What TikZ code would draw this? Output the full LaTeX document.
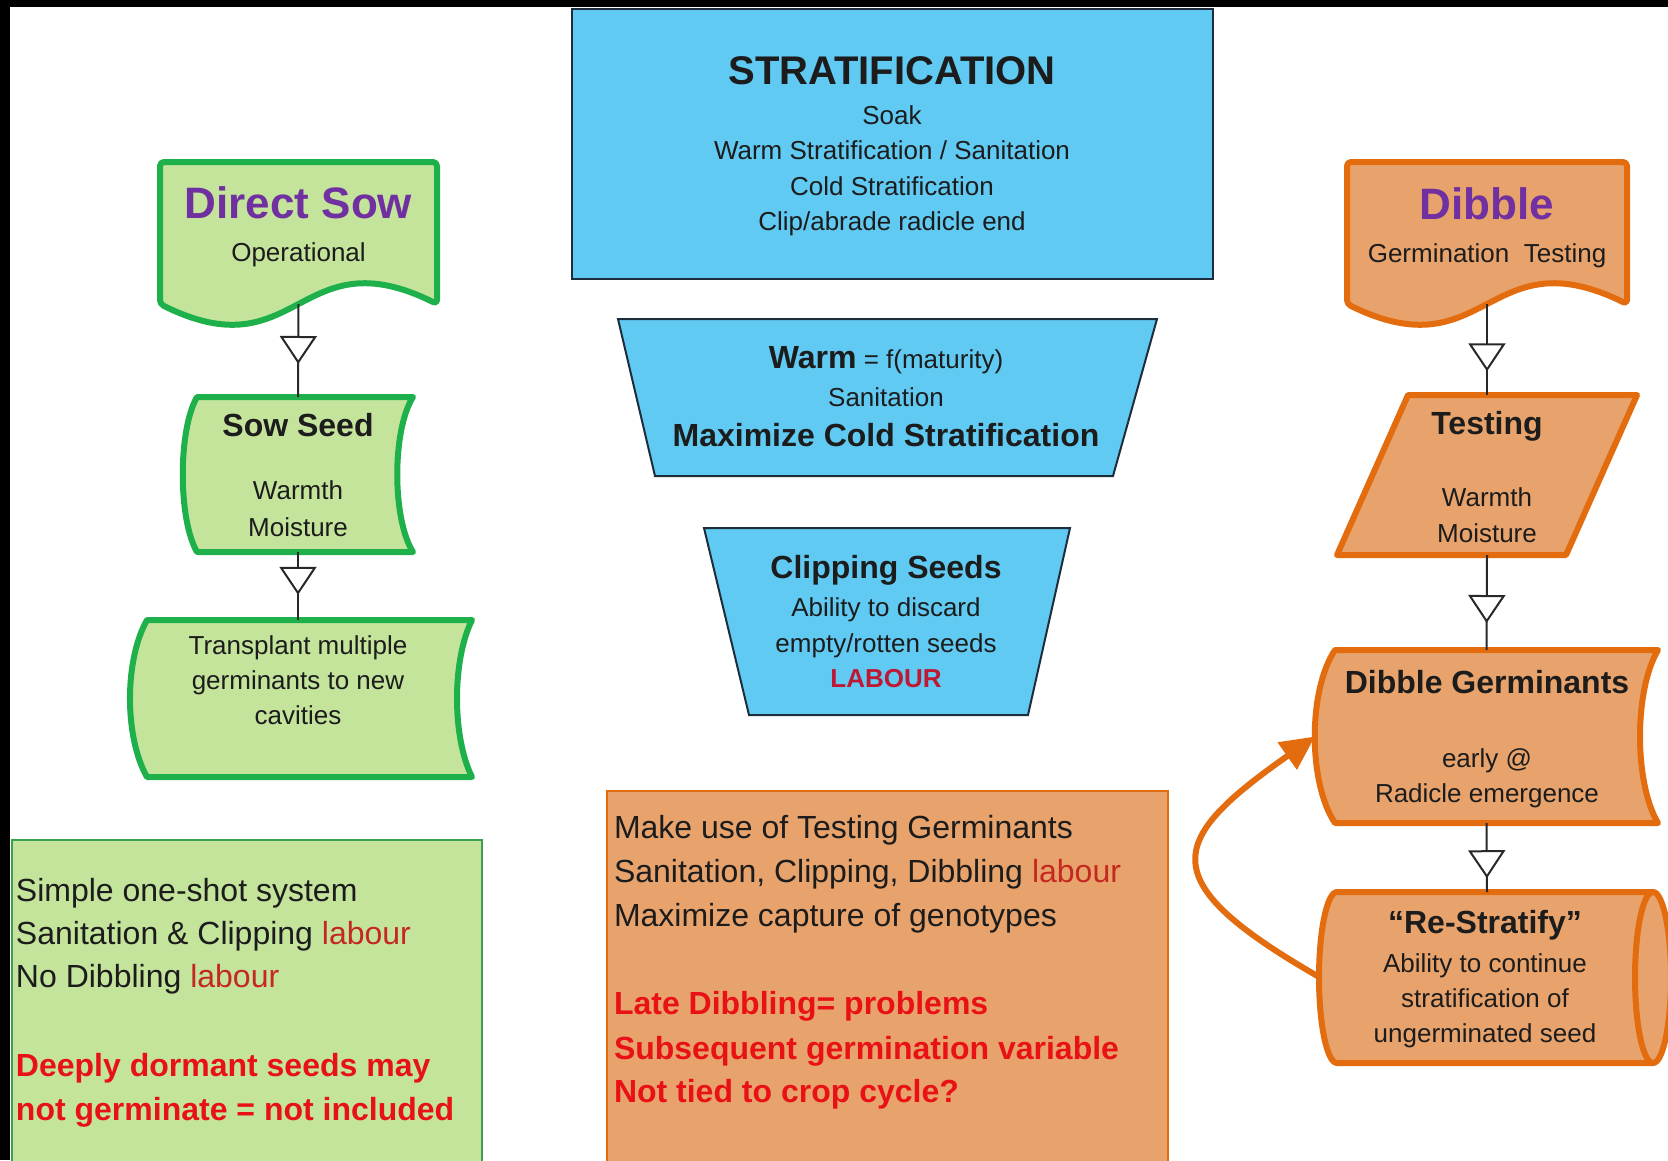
\documentclass[tikz,border=0pt]{standalone}
\usepackage{fontspec}
\setmainfont{Liberation Sans}
\usetikzlibrary{arrows.meta,decorations.markings}

\definecolor{gfill}{RGB}{196,228,156}
\definecolor{gline}{RGB}{30,176,75}
\definecolor{gthin}{RGB}{60,160,80}
\definecolor{ofill}{RGB}{232,163,108}
\definecolor{oline}{RGB}{226,108,14}
\definecolor{bfill}{RGB}{96,202,242}
\definecolor{bline}{RGB}{30,45,60}
\definecolor{purp}{RGB}{112,48,160}
\definecolor{txt}{RGB}{28,28,28}
\definecolor{alert}{RGB}{232,18,22}
\definecolor{lab}{RGB}{196,40,32}
\definecolor{crim}{RGB}{190,24,52}
\definecolor{conn}{RGB}{40,40,40}

\newcommand\hdf{\fontsize{32}{38}\selectfont\bfseries}

\tikzset{
  hold/.style={draw=none, rectangle, inner sep=0pt, outer sep=0pt},
  ln/.style={inner sep=0pt, outer sep=0pt, anchor=base, text=txt},
  lnw/.style={inner sep=0pt, outer sep=0pt, anchor=base west, text=txt},
  bigt/.style={font=\fontsize{44}{50}\selectfont\bfseries, text=purp},
  hd/.style={font=\fontsize{32}{38}\selectfont\bfseries},
  bd/.style={font=\fontsize{26}{30}\selectfont},
  tx/.style={font=\fontsize{32}{38}\selectfont},
  txb/.style={font=\fontsize{32}{38}\selectfont\bfseries, text=alert},
  gshape/.style={fill=gfill, draw=gline, line width=6pt, line join=round},
  oshape/.style={fill=ofill, draw=oline, line width=6pt, line join=round},
  bshape/.style={fill=bfill, draw=bline, line width=2pt},
  flow/.style={draw=conn, line width=2pt,
    decoration={markings, mark=at position #1 with {\arrow{Triangle[width=37pt,length=28pt,fill=white]}}},
    postaction={decorate}},
  loopback/.style={draw=oline, line width=6pt, -{Triangle[length=34pt,width=32pt]}},
}

\begin{document}
\begin{tikzpicture}[x=1pt,y=-1pt]
\useasboundingbox (0,0) rectangle (1668,1160);
\clip (0,0) rectangle (1668,1160);
\fill[white] (0,0) rectangle (1668,1160);
\fill[black] (0,0) rectangle (1668,7);
\fill[black] (0,0) rectangle (10,1160);

% ---------- shapes ----------
% Direct Sow (document)
\path[gshape, rounded corners=4pt] (160,162) -- (437,162) -- (437,304)
  .. controls (298.5,235) and (298.5,373) .. (160,304) -- cycle;
% Sow Seed (stored data)
\path[gshape] (197,397) -- (413,397) .. controls (392,430) and (392,519) .. (413,552)
  -- (197,552) .. controls (178,519) and (178,430) .. (197,397) -- cycle;
% Transplant (stored data)
\path[gshape] (147,620) -- (472,620) .. controls (452,660) and (452,737) .. (472,777)
  -- (147,777) .. controls (124.3,737) and (124.3,660) .. (147,620) -- cycle;
% Left text box
\path[fill=gfill, draw=gthin, line width=2.5pt] (12,840) rectangle (482,1175);

% Stratification
\path[bshape] (572,9) rectangle (1213,279);
% Warm trapezoid
\path[bshape] (618,319) -- (1157,319) -- (1113,476) -- (655,476) -- cycle;
% Clipping trapezoid
\path[bshape] (704,528) -- (1070,528) -- (1028,715) -- (749,715) -- cycle;
% Orange text box
\path[fill=ofill, draw=oline, line width=2pt] (607,791) rectangle (1168,1175);

% Dibble (document)
\path[oshape, rounded corners=4pt] (1347,162) -- (1627,162) -- (1627,304)
  .. controls (1487,235) and (1487,373) .. (1347,304) -- cycle;
% Testing (parallelogram)
\path[oshape] (1408,395) -- (1637,395) -- (1566,555) -- (1337,555) -- cycle;
% Dibble Germinants (stored data)
\path[oshape] (1335,650) -- (1658,650) .. controls (1634,690) and (1634,783) .. (1658,823)
  -- (1335,823) .. controls (1308,783) and (1308,690) .. (1335,650) -- cycle;
% Re-Stratify (cylinder)
\path[oshape] (1337,892) -- (1653,892) arc[start angle=-90, end angle=90, x radius=18, y radius=85.5]
  -- (1337,1063) arc[start angle=90, end angle=270, x radius=18, y radius=85.5] -- cycle;
\draw[draw=oline, line width=6pt] (1653,892) arc[start angle=-90, end angle=-270, x radius=18, y radius=85.5];

% ---------- anchor nodes ----------
\node[hold, minimum width=277pt, minimum height=142pt] (ds) at (298.5,233) {};
\node[hold, minimum width=230pt, minimum height=155pt] (ss) at (298,474.5) {};
\node[hold, minimum width=339pt, minimum height=157pt] (tp) at (302.5,698.5) {};
\node[hold, minimum width=280pt, minimum height=142pt] (dib) at (1487,233) {};
\node[hold, minimum width=229pt, minimum height=160pt] (tst) at (1487,475) {};
\node[hold, minimum width=343pt, minimum height=173pt] (dg) at (1486.5,736.5) {};
\node[hold, minimum width=334pt, minimum height=171pt] (rs) at (1487,977.5) {};

% ---------- connectors ----------
\draw[flow=0.645] (ds.south) -- (ss.north);
\draw[flow=0.63] (ss.south) -- (ss.south |- tp.north);
\draw[flow=0.74] (dib.south) -- (tst.north);
\draw[flow=0.716] (tst.south) -- (dg.north);
\draw[flow=0.80] (dg.south) -- (rs.north);
\draw[loopback] (rs.west) .. controls (1150,880) and (1168,840) .. (dg.west);

% ---------- texts ----------
\node[ln, bigt] (ds1) at (298.5,218) {Direct Sow};
\node[ln, bd] (ds2) at (298.5,261) {Operational};

\node[ln, hd] (ss1) at (298,436.5) {Sow Seed};
\node[ln, bd] (ss2) at (298,499) {Warmth};
\node[ln, bd] (ss3) at (298,536) {Moisture};

\node[ln, bd] (tp1) at (298,654) {Transplant multiple};
\node[ln, bd] (tp2) at (298,689) {germinants to new};
\node[ln, bd] (tp3) at (298,724) {cavities};

\node[lnw, tx] (gl1) at (16,901.5) {Simple one-shot system};
\node[lnw, tx] (gl2) at (16,944.5) {Sanitation \& Clipping \textcolor{lab}{labour}};
\node[lnw, tx] (gl3) at (16,987) {No Dibbling \textcolor{lab}{labour}};
\node[lnw, txb] (gl4) at (16,1076.5) {Deeply dormant seeds may};
\node[lnw, txb] (gl5) at (16,1120) {not germinate = not included};

\node[ln, font=\fontsize{40}{46}\selectfont\bfseries] (st1) at (892,84) {STRATIFICATION};
\node[ln, bd] (st2) at (892,124) {Soak};
\node[ln, bd] (st3) at (892,159) {Warm Stratification / Sanitation};
\node[ln, bd] (st4) at (892,195) {Cold Stratification};
\node[ln, bd] (st5) at (892,230) {Clip/abrade radicle end};

\node[ln, bd] (wm1) at (886,368.5) {{\hdf Warm} = f(maturity)};
\node[ln, bd] (wm2) at (886,406) {Sanitation};
\node[ln, hd] (wm3) at (886,446.5) {Maximize Cold Stratification};

\node[ln, hd] (cl1) at (886,578.5) {Clipping Seeds};
\node[ln, bd] (cl2) at (886,616) {Ability to discard};
\node[ln, bd] (cl3) at (886,652) {empty/rotten seeds};
\node[ln, bd, font=\fontsize{26}{30}\selectfont\bfseries, text=crim] (cl4) at (886,687) {LABOUR};

\node[lnw, tx] (ob1) at (614,838.5) {Make use of Testing Germinants};
\node[lnw, tx] (ob2) at (614,882.5) {Sanitation, Clipping, Dibbling \textcolor{lab}{labour}};
\node[lnw, tx] (ob3) at (614,926.5) {Maximize capture of genotypes};
\node[lnw, txb] (ob4) at (614,1014.5) {Late Dibbling= problems};
\node[lnw, txb] (ob5) at (614,1059.5) {Subsequent germination variable};
\node[lnw, txb] (ob6) at (614,1102.5) {Not tied to crop cycle?};

\node[ln, bigt] (db1) at (1487,219) {Dibble};
\node[ln, bd] (db2) at (1487,262) {Germination~~Testing};

\node[ln, hd] (ts1) at (1487,434.5) {Testing};
\node[ln, bd] (ts2) at (1487,506) {Warmth};
\node[ln, bd] (ts3) at (1487,542) {Moisture};

\node[ln, hd] (dg1) at (1487,693.5) {Dibble Germinants};
\node[ln, bd] (dg2) at (1487,767) {early @};
\node[ln, bd] (dg3) at (1487,802) {Radicle emergence};

\node[ln, hd] (rs1) at (1485,933.5) {“Re-Stratify”};
\node[ln, bd] (rs2) at (1485,972) {Ability to continue};
\node[ln, bd] (rs3) at (1485,1007) {stratification of};
\node[ln, bd] (rs4) at (1485,1042) {ungerminated seed};
\end{tikzpicture}
\end{document}
